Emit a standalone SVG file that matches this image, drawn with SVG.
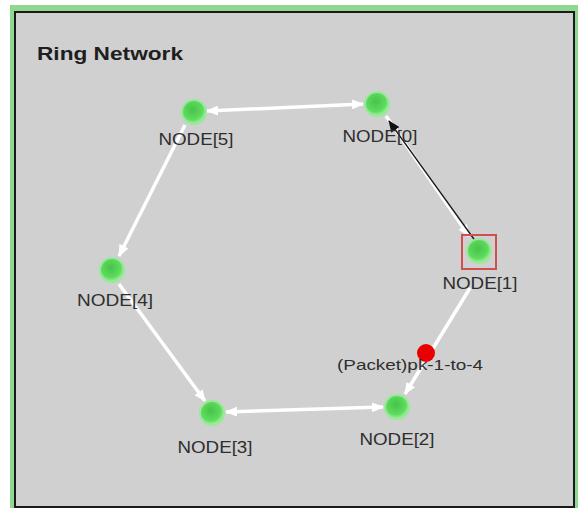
<svg xmlns="http://www.w3.org/2000/svg" width="578" height="508" viewBox="0 0 578 508">
  <style>
    .lbl { font-family: "Liberation Sans", Arial, sans-serif; font-size: 16px; fill: #2e2e2e; text-anchor: middle; }
    .title { font-family: "Liberation Sans", Arial, sans-serif; font-size: 19px; font-weight: bold; fill: #1e1e1e; }
    .link { stroke: #ffffff; stroke-width: 3.5; fill: none; }
    .node { fill: url(#ball); stroke: #9ae89a; stroke-width: 2; }
  </style>
  <defs>
    <radialGradient id="ball" cx="0.45" cy="0.4" r="0.6">
      <stop offset="0" stop-color="#47c447"/>
      <stop offset="0.7" stop-color="#5fdc5f"/>
      <stop offset="1" stop-color="#a6f4a6"/>
    </radialGradient>
    <marker id="wa" viewBox="0 0 12 10" refX="11" refY="5" markerWidth="12" markerHeight="10" markerUnits="userSpaceOnUse" orient="auto-start-reverse">
      <path d="M0,0 L12,5 L0,10 Z" fill="#ffffff"/>
    </marker>
    <marker id="ba" viewBox="0 0 12 10" refX="11" refY="5" markerWidth="12" markerHeight="10" markerUnits="userSpaceOnUse" orient="auto">
      <path d="M0,0 L12,5 L0,10 Z" fill="#111111"/>
    </marker>
  </defs>

  <!-- window frame -->
  <rect x="0" y="0" width="578" height="508" fill="#ffffff"/>
  <rect x="10" y="5" width="568" height="503" fill="#8fd88f"/>
  <rect x="14" y="11" width="561" height="497" fill="#1a1a1a"/>
  <rect x="16" y="13" width="557" height="493" fill="#d0d0d0"/>

  <text class="title" x="37" y="60" textLength="146" lengthAdjust="spacingAndGlyphs">Ring Network</text>

  <!-- links -->
  <g id="connectors">
    <line class="link" x1="207" y1="111" x2="363" y2="104" marker-start="url(#wa)" marker-end="url(#wa)"/>
    <line class="link" x1="386" y1="116" x2="469" y2="236" marker-end="url(#wa)"/>
    <line x1="476" y1="242" x2="389" y2="121" stroke="#1a1a1a" stroke-width="1.3" marker-end="url(#ba)"/>
    <line class="link" x1="470" y1="288" x2="405" y2="394" marker-end="url(#wa)"/>
    <line class="link" x1="226" y1="412" x2="383" y2="407" marker-start="url(#wa)" marker-end="url(#wa)"/>
    <line class="link" x1="185" y1="125" x2="119" y2="256" marker-end="url(#wa)"/>
    <line class="link" x1="119" y1="284" x2="205" y2="401" marker-end="url(#wa)"/>
  </g>

  <g id="node5">
    <circle class="node" cx="194" cy="112" r="12"/>
    <text class="lbl" x="196" y="145" textLength="75" lengthAdjust="spacingAndGlyphs">NODE[5]</text>
  </g>
  <g id="node0">
    <circle class="node" cx="377" cy="104" r="12"/>
    <text class="lbl" x="380" y="142" textLength="75" lengthAdjust="spacingAndGlyphs">NODE[0]</text>
  </g>
  <g id="node1">
    <rect x="462" y="235" width="34" height="34" fill="none" stroke="#d05050" stroke-width="2"/>
    <circle class="node" cx="479" cy="251" r="12"/>
    <text class="lbl" x="480" y="289" textLength="75" lengthAdjust="spacingAndGlyphs">NODE[1]</text>
  </g>
  <g id="node4">
    <circle class="node" cx="112" cy="270" r="12"/>
    <text class="lbl" x="115" y="306" textLength="76" lengthAdjust="spacingAndGlyphs">NODE[4]</text>
  </g>
  <g id="node3">
    <circle class="node" cx="212" cy="413" r="12"/>
    <text class="lbl" x="215" y="453" textLength="75" lengthAdjust="spacingAndGlyphs">NODE[3]</text>
  </g>
  <g id="node2">
    <circle class="node" cx="397" cy="407" r="12"/>
    <text class="lbl" x="397" y="445" textLength="75" lengthAdjust="spacingAndGlyphs">NODE[2]</text>
  </g>
  <g id="packet">
    <circle cx="426" cy="353" r="9" fill="#e80000"/>
    <text class="lbl" x="410" y="370" style="font-size:15px" textLength="146" lengthAdjust="spacingAndGlyphs">(Packet)pk-1-to-4</text>
  </g>
</svg>
